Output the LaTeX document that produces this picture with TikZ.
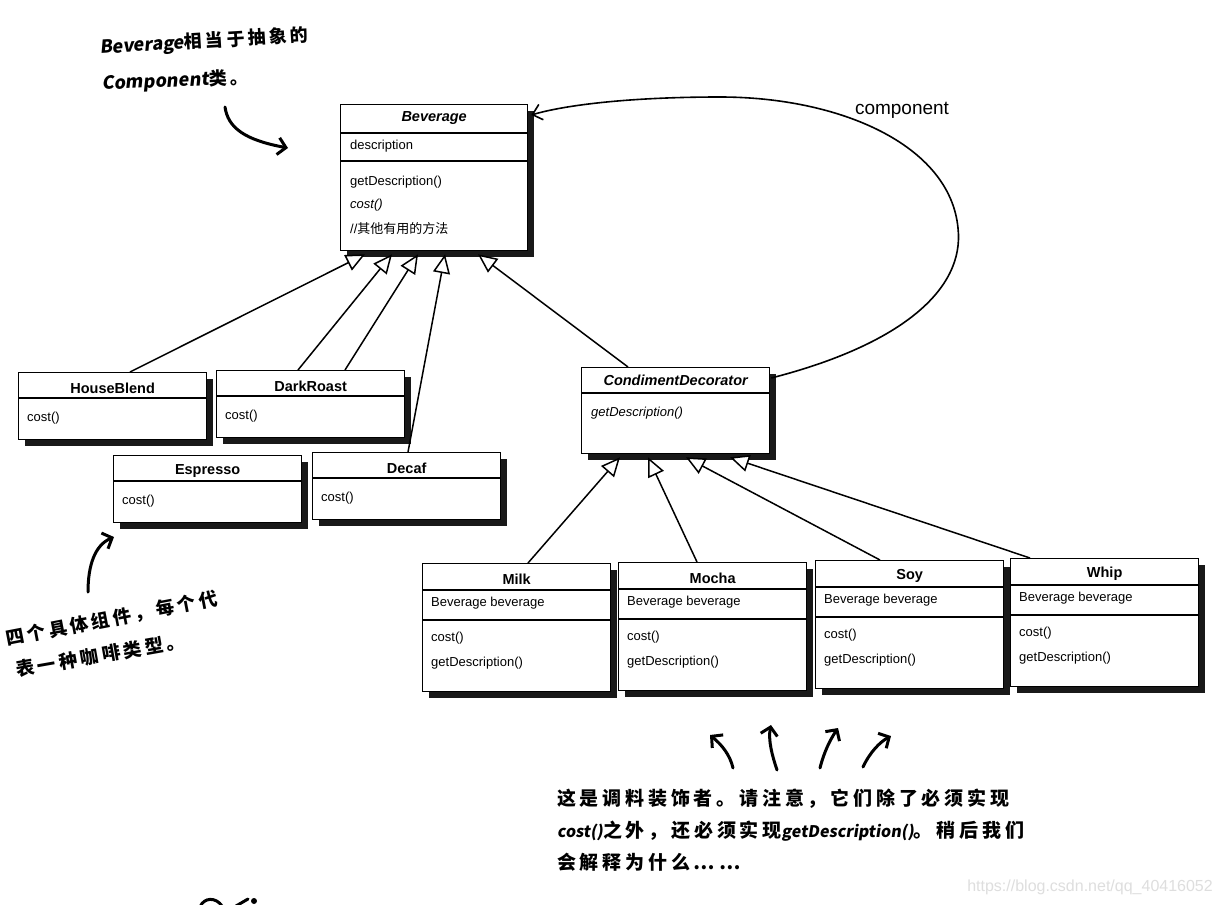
\documentclass[tikz,border=0pt]{standalone}
\usepackage{fontspec}
\setmainfont{Liberation Sans}
\newfontfamily\cjk{Noto Sans CJK SC}
\newfontfamily\cjkit{Noto Sans CJK SC}[FakeSlant=0.15]
\usetikzlibrary{arrows.meta,calc,shadows}
\pgfdeclarelayer{bg}
\pgfsetlayers{bg,main}
\tikzset{
  umlbox/.style={draw=black, line width=1.3pt, fill=white, anchor=north west, inner sep=0pt,
    drop shadow={shadow xshift=6pt, shadow yshift=-6pt, fill=black, opacity=0.9}},
  ttl/.style={font=\fontsize{14.5}{16}\selectfont\bfseries, inner sep=0pt},
  txt/.style={font=\fontsize{13}{15}\selectfont, anchor=west, inner sep=0pt},
  sep/.style={line width=1.2pt},
  inh/.style={line width=1.5pt, -{Triangle[fill=white, length=19pt, width=17pt]}},
  hand/.style={line width=3pt, line cap=round, line join=round},
  handarr/.style={hand, -{Straight Barb[length=8pt, width=17pt]}},
  note/.style={inner sep=0pt, anchor=base west},
}
\newcommand\zh[1]{{\cjk\bfseries\addfontfeature{LetterSpace=18}#1}}
\newcommand\lat[1]{{\cjkit\bfseries #1}}
\newcommand\simplebox[5]{%
  \node[umlbox, minimum width=188pt, minimum height=67pt] (#1) at (#2,#3) {};
  \node[ttl] (#1-t) at ($(#1.north)+(0,16)$) {#4};
  \draw[sep] ($(#1.north west)+(0,26)$) -- ($(#1.north east)+(0,26)$);
  \node[txt] (#1-m) at ($(#1.north west)+(9,46)$) {#5};
}
\newcommand\decobox[4]{%
  \node[umlbox, minimum width=188pt, minimum height=128pt] (#1) at (#2,#3) {};
  \node[ttl] (#1-t) at ($(#1.north)+(0,16)$) {#4};
  \draw[sep] ($(#1.north west)+(0,27)$) -- ($(#1.north east)+(0,27)$);
  \node[txt] (#1-a) at ($(#1.north west)+(9,40)$) {Beverage beverage};
  \draw[sep] ($(#1.north west)+(0,57)$) -- ($(#1.north east)+(0,57)$);
  \node[txt] (#1-m1) at ($(#1.north west)+(9,75)$) {cost()};
  \node[txt] (#1-m2) at ($(#1.north west)+(9,100)$) {getDescription()};
}
\begin{document}
\begin{tikzpicture}[x=1pt, y=-1pt]
\fill[white] (0,0) rectangle (1221,905);
\useasboundingbox (0,0) rectangle (1221,905);

% Beverage
\node[umlbox, minimum width=187pt, minimum height=146pt] (bev) at (340,104) {};
\node[ttl] (bev-t) at ($(bev.north)+(0,14)$) {\itshape Beverage};
\draw[sep] ($(bev.north west)+(0,29)$) -- ($(bev.north east)+(0,29)$);
\node[txt] (bev-a) at ($(bev.north west)+(10,42)$) {description};
\draw[sep] ($(bev.north west)+(0,57)$) -- ($(bev.north east)+(0,57)$);
\node[txt] (bev-m1) at ($(bev.north west)+(10,78)$) {getDescription()};
\node[txt] (bev-m2) at ($(bev.north west)+(10,101)$) {\itshape cost()};
\node[txt] (bev-m3) at ($(bev.north west)+(10,125)$) {//{\cjk 其他有用的方法}};

% concrete components
\simplebox{hb}{18}{372}{HouseBlend}{cost()}
\simplebox{dr}{216}{370}{DarkRoast}{cost()}
\simplebox{esp}{113}{455}{Espresso}{cost()}
\simplebox{dec}{312}{452}{Decaf}{cost()}

% CondimentDecorator
\node[umlbox, minimum width=188pt, minimum height=86pt] (cd) at (581,367) {};
\node[ttl] (cd-t) at ($(cd.north)+(0,13)$) {\itshape CondimentDecorator};
\draw[sep] ($(cd.north west)+(0,26)$) -- ($(cd.north east)+(0,26)$);
\node[txt] (cd-m) at ($(cd.north west)+(10,46)$) {\itshape getDescription()};

% decorators
\decobox{milk}{422}{563}{Milk}
\decobox{mocha}{618}{562}{Mocha}
\decobox{soy}{815}{560}{Soy}
\decobox{whip}{1010}{558}{Whip}

% inheritance connectors
\begin{pgfonlayer}{bg}
\draw[line width=1.5pt] ($(esp.north west)+(111,0)$) -- ($(dr.north west)+(129,0)$);
\end{pgfonlayer}
\draw[inh] ($(hb.north west)+(112,0)$) -- ($(bev.south west)+(25,3)$);
\draw[inh] ($(dr.north west)+(82,0)$) -- ($(bev.south west)+(52,3)$);
\draw[inh] ($(dr.north west)+(129,0)$) -- ($(bev.south west)+(78,3)$);
\draw[inh] ($(dec.north west)+(96,0)$) -- ($(bev.south west)+(105,3)$);
\draw[inh] ($(cd.north west)+(47,0)$) -- ($(bev.south west)+(138,3)$);

\draw[inh] ($(milk.north west)+(106,0)$) -- ($(cd.south west)+(39,3)$);
\draw[inh] ($(mocha.north west)+(79,0)$) -- ($(cd.south west)+(67,3)$);
\draw[inh] ($(soy.north west)+(65,0)$) -- ($(cd.south west)+(105,3)$);
\draw[inh] ($(whip.north west)+(20,0)$) -- ($(cd.south west)+(149,3)$);

% component association
\draw[line width=1.6pt, -{Straight Barb[length=9pt, width=16pt]}]
  ($(cd.north east)+(1,11)$) .. controls (900,345) and (965,290) .. (958,228)
  .. controls (950,145) and (840,97) .. (720,97)
  .. controls (630,97) and (565,105) .. ($(bev.north east)+(3,11)$);
\node[font=\fontsize{19}{21}\selectfont, inner sep=0pt] (lbl) at (902,110) {component};

% handwritten notes
\node[note, rotate=3.5] (n1a) at (100,54) {\fontsize{18}{20}\selectfont\lat{Beverage}\zh{相当于抽象的}};
\node[note, rotate=2.5] (n1b) at (102,90) {\fontsize{18}{20}\selectfont\lat{Component}\zh{类。}};
\draw[handarr] (225,107) .. controls (228,128) and (245,140) .. (288,148);

\node[note, rotate=11] (n2a) at (7,646) {\fontsize{18.5}{20}\selectfont\zh{四个具体组件，每个代}};
\node[note, rotate=10] (n2b) at (17,677) {\fontsize{18.5}{20}\selectfont\zh{表一种咖啡类型。}};
\draw[handarr] (88,592) .. controls (88,565) and (95,545) .. (114,537);

\draw[handarr] (733,768) .. controls (730,755) and (722,745) .. (710,735);
\draw[handarr] (777,770) .. controls (772,755) and (768,740) .. (771,725);
\draw[handarr] (820,768) .. controls (824,752) and (830,740) .. (838,728);
\draw[handarr] (863,767) .. controls (870,752) and (880,742) .. (891,736);

\node[note] (n3a) at (557,805) {\fontsize{19}{21}\selectfont\zh{\addfontfeature{LetterSpace=20}这是调料装饰者。请注意，它们除了必须实现}};
\node[note] (n3b) at (557,837) {\fontsize{19}{21}\selectfont\lat{\fontsize{16}{18}\selectfont cost()}\zh{\addfontfeature{LetterSpace=20}之外，还必须实现}\lat{\fontsize{16}{18}\selectfont getDescription()}\zh{\addfontfeature{LetterSpace=20}。稍后我们}};
\node[note] (n3c) at (557,869) {\fontsize{19}{21}\selectfont\zh{\addfontfeature{LetterSpace=20}会解释为什么……}};

% fragment at bottom edge
\draw[hand] (200,907) .. controls (204,897) and (216,897) .. (222,906);
\draw[hand] (236,906) -- (248,899);
\fill (254,901) circle (3);

% watermark
\node[font=\fontsize{16}{18}\selectfont, text=black!13, anchor=east, inner sep=0pt] (wm) at (1213,887) {https://blog.csdn.net/qq\_40416052};
\end{tikzpicture}
\end{document}
